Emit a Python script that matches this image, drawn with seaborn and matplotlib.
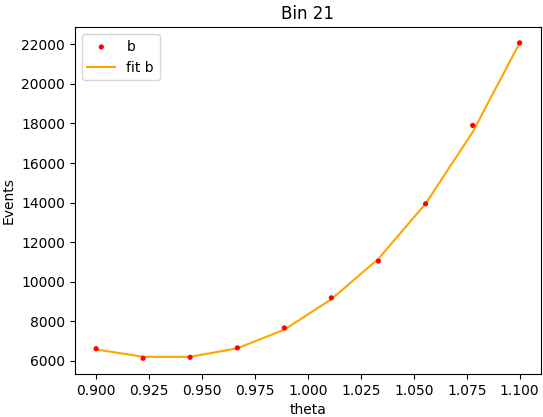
import numpy as np
import pandas as pd
import matplotlib
matplotlib.use("Agg")
import matplotlib.pyplot as plt
import seaborn as sns

# Data
theta = [0.900, 0.9222, 0.9444, 0.9667, 0.9889, 1.0111, 1.0333, 1.0556, 1.0778, 1.100]
events_b = [6620, 6135, 6185, 6660, 7670, 9190, 11045, 13940, 17900, 22070]
fit_b = [6580, 6210, 6210, 6640, 7580, 9120, 11160, 13950, 17560, 22070]

df = pd.DataFrame({"theta": theta, "b": events_b, "fit": fit_b})

fig, ax = plt.subplots(figsize=(5.43, 4.17), dpi=100)

sns.scatterplot(data=df, x="theta", y="b", ax=ax, color="red", s=14,
                edgecolor="none", label="b", zorder=3)
sns.lineplot(data=df, x="theta", y="fit", ax=ax, color="orange",
             linewidth=1.5, label="fit b")

ax.set_title("Bin 21")
ax.set_xlabel("theta")
ax.set_ylabel("Events")
ax.legend(loc="upper left")

fig.subplots_adjust(left=0.138, right=0.996, top=0.935, bottom=0.103)
fig.savefig("out.png", dpi=100)
